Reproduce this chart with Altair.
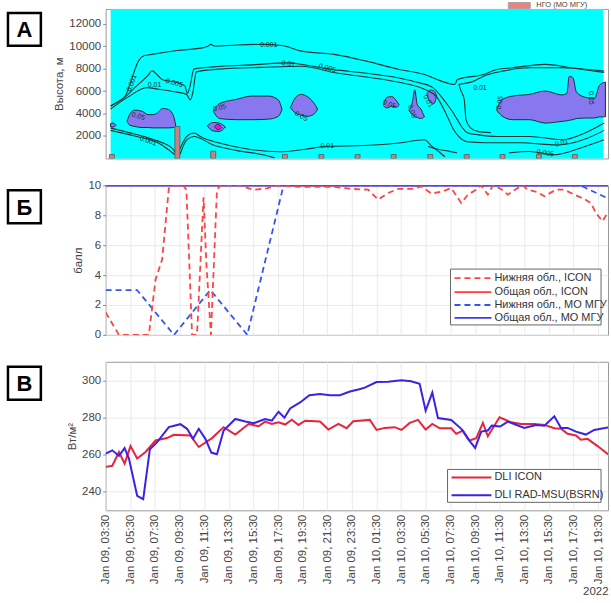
import altair as alt
import pandas as pd

FONT = "Liberation Sans"
BASE = pd.Timestamp("2022-01-09 03:30:00", tz="UTC")


def ms(hours):
    return [int((BASE + pd.Timedelta(hours=float(h))).value // 1_000_000) for h in hours]


# ---------------- time axis ----------------
X_RANGE_H = [0, 40.8]
TICK_H = [0, 2, 4, 6, 8, 10, 12, 14, 16, 18, 20, 22, 24, 26, 28, 30, 32, 34, 36, 38, 40]
XDOM = ms(X_RANGE_H)
TICKS = ms(TICK_H)

# ---------------- panel A: cloud water contours ----------------
BAR_T = [0.1, 5.53, 8.5, 14.44, 17.46, 20.46, 23.45, 26.48, 29.5, 32.47, 35.49, 38.46, 41.45]
BAR_Z = [350, 2850, 650, 350, 350, 350, 350, 350, 350, 350, 350, 350, 350]

BLOB_L_T, BLOB_L_TOP, BLOB_L_BOT = [0, 0.2, 0.45], [3100, 3150, 2950], [2800, 2800, 2950]
BLOB_A_T = [1.35, 1.6, 2.0, 2.6, 3.1, 3.5, 3.8, 4.3, 4.8, 5.2, 5.4]
BLOB_A_TOP = [3300, 3950, 4300, 4200, 3900, 3900, 4000, 4450, 4350, 3800, 2900]
BLOB_A_BOT = [3300, 2950, 2850, 2750, 2750, 2720, 2720, 2720, 2720, 2750, 2900]
BLOB_B_T = [8.5, 9.04, 10.4, 11.7, 13.1, 13.9, 14.2]
BLOB_B_TOP = [4200, 4900, 5250, 5550, 5550, 5200, 4350]
BLOB_B_BOT = [4200, 3550, 3450, 3450, 3500, 3750, 4350]
BLOB_C_T = [14.9, 15.3, 15.8, 16.3, 16.8, 17.15]
BLOB_C_TOP = [4500, 5400, 5700, 5500, 5000, 4400]
BLOB_C_BOT = [4500, 4050, 3850, 3750, 3900, 4400]
BLOB_D_T = [22.6, 22.9, 23.3, 23.7, 23.9]
BLOB_D_TOP = [4700, 5450, 5500, 5100, 4800]
BLOB_D_BOT = [4700, 4500, 4650, 4550, 4800]
BLOB_E_T = [24.7, 25.0, 25.2, 25.4, 25.7, 26.0]
BLOB_E_TOP = [4300, 5000, 6100, 4800, 4400, 3700]
BLOB_E_BOT = [4300, 3900, 3700, 3650, 3550, 3700]
BLOB_F_T = [26.2, 26.5, 26.8, 27.0]
BLOB_F_TOP = [5700, 6100, 6000, 5600]
BLOB_F_BOT = [5700, 5000, 4900, 5600]
BLOB_G_T = [31.98, 32.4, 33.3, 34.7, 36.0, 37.4, 37.8, 38.0, 38.3, 38.6, 39.5, 40.1, 40.5, 41.0]
BLOB_G_TOP = [4300, 5200, 5550, 5700, 6000, 5650, 5800, 7300, 7200, 5900, 5400, 5350, 6500, 6800]
BLOB_G_BOT = [4300, 3800, 3450, 3450, 3150, 3300, 3350, 3400, 3450, 3550, 3600, 3600, 3700, 3700]
BLOB_H_T, BLOB_H_TOP, BLOB_H_BOT = [8.0, 8.5, 9.0, 9.5], [2900, 3200, 3150, 2800], [2900, 2450, 2400, 2800]
MAG_T, MAG_TOP, MAG_BOT = [8.6, 8.9, 9.2], [2850, 3050, 2750], [2850, 2550, 2750]

C1_T = [0, 0.6, 1.2, 1.6, 2.3, 2.8, 3.4, 5.5, 7.7, 8.0, 8.3, 8.6, 10.5, 12.6, 14.2, 15.8, 18.5, 21.2,
        23.9, 26.0, 27.4, 28.5, 28.75, 30.9, 32.0, 33.3, 36.0, 38.2, 40.9]
C1_Z = [4700, 5050, 5540, 6600, 8660, 9150, 9260, 9600, 9860, 9950, 10150, 10000, 10100, 10150, 10050,
        9550, 9260, 8660, 7920, 7470, 6880, 6580, 7030, 7470, 7920, 8070, 8370, 8070, 7770]
C2_T = [0, 1.0, 2.0, 3.1, 3.45, 3.8, 4.3, 5.5, 6.15, 6.35, 6.55, 6.9, 8.5, 12.0, 14.7, 16.5, 18.5, 21.0,
        23.9, 25.5, 26.7, 27.4, 27.9, 28.3, 28.7, 29.1, 29.6, 30.5, 32.0, 34.7, 37.4, 39.3, 40.9]
C2_Z = [4650, 5300, 6300, 7400, 7800, 7500, 7000, 6750, 6450, 5800, 6300, 7950, 8150, 8350, 8500, 8250,
        7900, 7600, 7150, 6750, 6300, 5500, 4800, 4200, 3500, 2800, 2270, 2100, 1960, 1960, 1670, 2270, 3160]
C3_T = [0, 1.5, 3.0, 4.0, 5.5, 6.3, 6.6, 6.8, 7.1, 9.0, 12.5, 15.8, 18.7, 21.5, 24.0, 26.0, 27.0, 27.6,
        28.0, 28.4, 28.8, 29.5, 31.0, 34.0, 37.0, 39.5, 40.9]
C3_Z = [4400, 5500, 6300, 6150, 5900, 5700, 5200, 5800, 7700, 7950, 8100, 8200, 7600, 7200, 6750, 6150,
        5500, 4400, 3500, 2600, 2000, 1500, 1400, 1400, 1200, 1800, 2500]
C4A_T = [28.85, 30.1, 30.9, 32.5, 34.7, 37.4, 40.1, 40.9]
C4A_Z = [6600, 6880, 7320, 7770, 8070, 8070, 7770, 7650]
C4B_T = [28.85, 29.0, 29.3, 29.45, 29.8, 30.4, 31.5]
C4B_Z = [6600, 6100, 5240, 3450, 2740, 2410, 2300]
B1_T, B1_Z = [0, 1.5, 3.6, 4.5, 5.2, 5.45], [2700, 2300, 1670, 1300, 800, 300]
B1B_T = [5.6, 6.3, 6.9, 7.5, 9.0, 11.7, 14.0, 16.0, 18.0, 21.0, 23.9, 26.0, 26.6, 27.2, 27.7]
B1B_Z = [500, 1950, 2270, 1900, 1370, 780, 600, 800, 1080, 1150, 1370, 1670, 1100, 600, 150]
B2_T, B2_Z = [0, 2, 4, 5.3], [2500, 2000, 1350, 350]
B2B_T, B2B_Z = [5.75, 6.3, 6.9, 8.5, 10.5, 12.5, 13.6], [350, 1650, 1950, 1200, 700, 350, 50]
B3_T, B3_Z = [26.3, 27.2, 28.0, 28.7], [1070, 800, 650, 500]
B4_T, B4_Z = [33.0, 34.7, 36.8, 39.3, 40.9], [500, 625, 330, 1070, 1670]

LBL_TEXT = ["0.001", "0.01", "0.005", "0.01", "0.005", "0.001", "0.05", "0.05", "0.05", "0.05",
            "0.05", "0.05", "0.05", "0.01", "0.01", "0.001", "0.005", "0.01", "0.01"]
LBL_T = [13.09, 14.71, 17.95, 3.64, 5.26, 1.75, 2.29, 9.04, 15.79, 23.1, 24.97, 32.25, 39.8, 17.95,
         37.38, 3.1, 36.0, 30.6, 26.3]
LBL_Z = [10050, 8400, 8050, 6550, 6700, 6700, 3750, 4500, 3750, 4800, 4200, 4950, 5400, 1075, 1373,
         1550, 480, 6300, 5100]
LBL_ANGLE = [0, 8, 15, 0, 15, 290, 15, 345, 30, 20, 70, 280, 90, 0, 345, 20, 10, 0, 60]

# ---------------- panel B: cloudiness ----------------
LOW_ICON_T = [0, 1.08, 3.51, 4.05, 4.59, 5.13, 5.4, 6.3, 6.56, 7.02, 7.42, 7.95, 8.2, 8.55, 9.04, 9.31,
              10.9, 12.01, 13.1, 13.9, 15.8, 17.14, 18.5, 20.1, 21.32, 22.13, 22.94, 23.75, 24.83, 25.64,
              26.45, 27.39, 28.07, 28.88, 29.42, 30.1, 30.5, 31.04, 31.45, 32.12, 32.66, 33.47, 33.87,
              34.28, 35.09, 35.63, 36.57, 37.25, 38.06, 38.87, 39.41, 39.81, 40.35, 40.76]
LOW_ICON_V = [1.5, 0, 0, 3.7, 5.05, 9.8, 10, 10, 9.7, 0, 0, 9.2, 4.5, 0, 9.7, 10,
              10, 9.7, 9.8, 10, 9.9, 9.9, 9.9, 9.76, 9.71, 9.05, 9.49, 9.76, 9.76, 9.93,
              9.45, 9.6, 9.82, 8.82, 9.38, 9.71, 10, 9.38, 10, 9.76, 9.38, 9.82, 10,
              9.71, 9.54, 9.27, 9.71, 9.71, 9.38, 9.09, 8.82, 8.16, 7.6, 8.16]
TOT_ICON_T, TOT_ICON_V = [0, 41], [10, 10]
LOW_MSU_T = [0, 2.55, 5.55, 8.5, 11.5, 14.45, 17.5, 20.5, 23.5, 26.5, 29.5, 32.5, 35.5, 38.55, 41.5]
LOW_MSU_V = [3, 3, 0, 3, 0, 10, 10, 10, 10, 10, 10, 10, 10, 10, 8.85]
TOT_MSU_T = [0, 2.55, 5.55, 8.5, 11.5, 14.45, 17.5, 20.5, 23.5, 26.5, 29.5, 32.5, 35.5, 38.55, 41.5]
TOT_MSU_V = [10, 10, 10, 10, 10, 10, 10, 10, 10, 10, 10, 10, 10, 10, 10]

# ---------------- panel C: downward longwave ----------------
DLI_ICON_T = [0, 0.54, 1.08, 1.54, 2.02, 2.56, 3.24, 4.05, 4.99, 5.53, 6.88, 7.56, 8.64, 9.58, 10.53,
              11.61, 12.42, 12.95, 13.5, 14.04, 14.58, 15.12, 15.66, 16.2, 17.41, 18.09, 18.9, 19.57,
              20.11, 21.46, 22.0, 22.67, 23.48, 24.02, 24.7, 25.37, 25.99, 26.53, 27.13, 28.07, 28.47,
              29.02, 29.56, 30.1, 30.64, 31.04, 31.99, 32.93, 33.74, 34.82, 35.63, 36.44, 36.98, 37.52,
              38.2, 38.6, 39.14, 39.95, 40.97]
DLI_ICON_V = [253.4, 254, 261.4, 255.2, 264.6, 257.9, 261.4, 267.6, 268.9, 270.7, 270.3, 264.1, 268.9,
              274.8, 270.8, 276.5, 275.3, 277.8, 276.5, 277.4, 276.2, 278.8, 276, 278.3, 277.8, 273.5,
              276.5, 274.2, 278, 278.7, 273.3, 274.4, 274.8, 273.3, 277.1, 278.7, 273.5, 276.5, 274.2,
              274.2, 271.2, 273, 267.6, 268.9, 277.1, 269.9, 280.1, 277.4, 276.5, 276.5, 276, 274.2,
              273.9, 271.2, 270.3, 268, 268.5, 264.6, 259.3]
DLI_BSRN_T = [0, 0.54, 1.08, 1.54, 1.89, 2.56, 3.05, 3.59, 4.18, 5.13, 6.07, 6.61, 7.1, 7.56, 8.1, 8.58,
              9.04, 9.58, 10.53, 11.34, 12.01, 12.95, 13.5, 14.04, 14.52, 14.98, 15.79, 16.55, 17.41,
              18.22, 19.03, 19.84, 20.6, 21.05, 22.0, 22.94, 24.02, 24.8, 25.5, 25.99, 26.53, 26.99,
              28.07, 28.88, 29.42, 30.01, 30.5, 31.04, 31.36, 32.04, 32.66, 34.0, 34.95, 35.63, 36.44,
              36.98, 37.52, 38.2, 39.0, 39.68, 40.97]
DLI_BSRN_V = [260.5, 262.3, 259.3, 263.5, 257.9, 237.8, 236, 262.8, 266.8, 274.8, 276.4, 273.9, 268.5,
              273.9, 268.5, 261.1, 260.2, 273, 279.2, 277.8, 276.9, 279.2, 278.3, 283.1, 279.9, 284.9,
              288.1, 292, 292.7, 292, 292, 294, 295.2, 296.1, 299.1, 299.3, 300, 299.5, 298.2, 283.6,
              293.4, 279.7, 278.7, 273.9, 268.5, 263.6, 272.4, 273, 275.6, 275.1, 277.8, 274.4, 276,
              275.6, 280.6, 274.4, 274.4, 272.4, 270.8, 273.3, 274.8]

# ---------------- helpers ----------------
one = pd.DataFrame({"k": [0]})
XSCALE = alt.Scale(type="utc", domain=XDOM)


def series(T, V):
    return pd.DataFrame({"ms": ms(T), "v": V})


def letter(ch, y0):
    box = alt.Chart(one).mark_rect(fill="white", stroke="black", strokeWidth=2.5).encode(
        x=alt.value(-98), x2=alt.value(-65), y=alt.value(y0), y2=alt.value(y0 + 33))
    txt = alt.Chart(one).mark_text(text=ch, font=FONT, fontSize=22, fontWeight="bold", color="black",
                                   align="center", baseline="middle").encode(
        x=alt.value(-81.5), y=alt.value(y0 + 17.5))
    return [box, txt]


def legend_entry(x0, x1, y, color, dash, label, xt, width=1.8):
    kw = dict(color=color, strokeWidth=width)
    if dash:
        kw["strokeDash"] = dash
    r = alt.Chart(one).mark_rule(**kw).encode(x=alt.value(x0), x2=alt.value(x1), y=alt.value(y))
    t = alt.Chart(one).mark_text(text=label, align="left", baseline="middle", font=FONT, fontSize=11,
                                 color="#333").encode(x=alt.value(xt), y=alt.value(y))
    return [r, t]


def legend_box(x0, x1, y0, y1):
    return alt.Chart(one).mark_rect(fill="white", stroke="#666", strokeWidth=1).encode(
        x=alt.value(x0), x2=alt.value(x1), y=alt.value(y0), y2=alt.value(y1))


YAX = dict(ticks=True, tickSize=3, labelPadding=2, titlePadding=4, format="d",
           labelFontSize=11.5, titleFontSize=11.5)

# ---------------- panel A ----------------
ZDOM = [0, 13300]
ZSCALE = alt.Scale(domain=ZDOM, nice=False)
A_YAXIS = alt.Axis(values=[2000, 4000, 6000, 8000, 10000, 12000], title="Высота, м", grid=False, **YAX)
bg = pd.DataFrame({"t0": [XDOM[0]], "t1": [XDOM[1]], "z0": [ZDOM[0]], "z1": [ZDOM[1]]})
bg_layer = alt.Chart(bg).mark_rect(color="#00FFFF").encode(
    x=alt.X("t0:T", scale=XSCALE, axis=None), x2="t1:T",
    y=alt.Y("z0:Q", scale=ZSCALE, axis=A_YAXIS), y2="z1:Q")

blobs = {
    "l": (BLOB_L_T, BLOB_L_TOP, BLOB_L_BOT), "a": (BLOB_A_T, BLOB_A_TOP, BLOB_A_BOT),
    "b": (BLOB_B_T, BLOB_B_TOP, BLOB_B_BOT), "c": (BLOB_C_T, BLOB_C_TOP, BLOB_C_BOT),
    "d": (BLOB_D_T, BLOB_D_TOP, BLOB_D_BOT), "e": (BLOB_E_T, BLOB_E_TOP, BLOB_E_BOT),
    "f": (BLOB_F_T, BLOB_F_TOP, BLOB_F_BOT), "g": (BLOB_G_T, BLOB_G_TOP, BLOB_G_BOT),
    "h": (BLOB_H_T, BLOB_H_TOP, BLOB_H_BOT),
}
rows = []
for name, (T, TOP, BOT) in blobs.items():
    for m, a, b in zip(ms(T), TOP, BOT):
        rows.append({"blob": name, "ms": m, "top": a, "bot": b})
blob_df = pd.DataFrame(rows)
mag_df = pd.DataFrame({"blob": "m", "ms": ms(MAG_T), "top": MAG_TOP, "bot": MAG_BOT})


def blob_layer(df, fill):
    return alt.Chart(df).mark_area(interpolate="monotone", fill=fill, stroke="#1c2e36", strokeWidth=1,
                                   clip=True).encode(
        x=alt.X("ms:T", scale=XSCALE, axis=None),
        y=alt.Y("top:Q", scale=ZSCALE, stack=None, axis=A_YAXIS), y2="bot:Q", detail="blob:N")


lines = {"c1": (C1_T, C1_Z), "c2": (C2_T, C2_Z), "c3": (C3_T, C3_Z), "c4a": (C4A_T, C4A_Z),
         "c4b": (C4B_T, C4B_Z), "b1": (B1_T, B1_Z), "b1b": (B1B_T, B1B_Z), "b2": (B2_T, B2_Z),
         "b2b": (B2B_T, B2B_Z), "b3": (B3_T, B3_Z), "b4": (B4_T, B4_Z)}
rows = []
for name, (T, Z) in lines.items():
    for i, (m, z) in enumerate(zip(ms(T), Z)):
        rows.append({"line": name, "seq": i, "ms": m, "z": z})
line_df = pd.DataFrame(rows)
contour_layer = alt.Chart(line_df).mark_line(interpolate="monotone", color="#1c3434", strokeWidth=1.1,
                                             clip=True).encode(
    x=alt.X("ms:T", scale=XSCALE, axis=None), y=alt.Y("z:Q", scale=ZSCALE, axis=A_YAXIS),
    detail="line:N", order="seq:Q")

bar_df = pd.DataFrame({"ms": ms(BAR_T), "z": BAR_Z})
bar_layer = alt.Chart(bar_df).mark_bar(size=5, color="#C98080", stroke="#5a4a4a", strokeWidth=0.7,
                                       clip=True).encode(
    x=alt.X("ms:T", scale=XSCALE, axis=None), y=alt.Y("z:Q", scale=ZSCALE, axis=A_YAXIS),
    y2=alt.datum(0))

lbl_df = pd.DataFrame({"ms": ms(LBL_T), "z": LBL_Z, "txt": LBL_TEXT, "ang": LBL_ANGLE})
lbl_layer = alt.Chart(lbl_df).mark_text(font=FONT, fontSize=7, color="#1c2e2e").encode(
    x=alt.X("ms:T", scale=XSCALE, axis=None), y=alt.Y("z:Q", scale=ZSCALE, axis=A_YAXIS),
    text="txt:N", angle=alt.Angle("ang:Q", scale=None))

ngo_box = alt.Chart(one).mark_rect(fill="#F08080", stroke="#999", strokeWidth=0.8).encode(
    x=alt.value(404), x2=alt.value(426), y=alt.value(-6.5), y2=alt.value(-0.5))
ngo_txt = alt.Chart(one).mark_text(text="НГО (МО МГУ)", font=FONT, fontSize=7.5, color="#444",
                                   align="left", baseline="middle").encode(
    x=alt.value(432), y=alt.value(-3.5))

panel_a = alt.layer(bg_layer, blob_layer(blob_df, "#8878F0"), blob_layer(mag_df, "#FF00FF"),
                    contour_layer, bar_layer, lbl_layer, ngo_box, ngo_txt,
                    *letter("А", 4)).properties(width=504, height=150)

# ---------------- panel B ----------------
BSCALE = alt.Scale(domain=[0, 10], nice=False)
xgrid = alt.Axis(values=TICKS, labels=False, ticks=False, domain=False, grid=True, title=None)


def b_line(T, V, color, dash, width, axis_y):
    kw = dict(color=color, strokeWidth=width, clip=True)
    if dash:
        kw["strokeDash"] = dash
    return alt.Chart(series(T, V)).mark_line(**kw).encode(
        x=alt.X("ms:T", scale=XSCALE, axis=xgrid),
        y=alt.Y("v:Q", scale=BSCALE, axis=axis_y))


b_yaxis = alt.Axis(values=[0, 2, 4, 6, 8, 10], title="балл", grid=True, **YAX)
panel_b = alt.layer(
    b_line(TOT_ICON_T, TOT_ICON_V, "#FF3B3B", None, 1.6, b_yaxis),
    b_line(TOT_MSU_T, TOT_MSU_V, "#3B3BFF", None, 2.2, b_yaxis),
    b_line(LOW_MSU_T, LOW_MSU_V, "#3355EE", [6, 4], 1.8, b_yaxis),
    b_line(LOW_ICON_T, LOW_ICON_V, "#FF4444", [6, 4], 1.8, b_yaxis),
    legend_box(346, 497, 84, 140),
    *legend_entry(350, 387, 93, "#FF4444", [6, 4], "Нижняя обл., ICON", 390),
    *legend_entry(350, 387, 107, "#FF3B3B", None, "Общая обл., ICON", 390),
    *legend_entry(350, 387, 120, "#3355EE", [6, 4], "Нижняя обл., МО МГУ", 390),
    *legend_entry(350, 387, 133, "#3B3BFF", None, "Общая обл., МО МГУ", 390),
    *letter("Б", 5),
).properties(width=504, height=150)

# ---------------- panel C ----------------
CSCALE = alt.Scale(domain=[230, 310], nice=False)
c_xaxis = alt.Axis(values=TICKS, format="%b %d, %H:%M", labelAngle=270, labelOverlap=False,
                   labelFlush=False, ticks=False, domain=False, grid=True, labelPadding=4,
                   labelFontSize=11.5, title="2022", titleAnchor="end", titlePadding=2,
                   titleFontSize=11.5)
c_yaxis = alt.Axis(values=[240, 260, 280, 300], title="Вт/м²", grid=True, **YAX)

c_red = alt.Chart(series(DLI_ICON_T, DLI_ICON_V)).mark_line(color="#E8243C", strokeWidth=2,
                                                           clip=True).encode(
    x=alt.X("ms:T", scale=XSCALE, axis=c_xaxis), y=alt.Y("v:Q", scale=CSCALE, axis=c_yaxis))
c_blue = alt.Chart(series(DLI_BSRN_T, DLI_BSRN_V)).mark_line(color="#3A22E6", strokeWidth=2,
                                                             clip=True).encode(
    x=alt.X("ms:T", scale=XSCALE, axis=c_xaxis), y=alt.Y("v:Q", scale=CSCALE, axis=c_yaxis))

panel_c = alt.layer(
    c_red, c_blue,
    legend_box(343, 497, 108, 141),
    *legend_entry(347, 387, 116, "#E8243C", None, "DLI ICON", 390, 2),
    *legend_entry(347, 387, 134, "#3A22E6", None, "DLI RAD-MSU(BSRN)", 390, 2),
    *letter("В", 5),
).properties(width=504, height=149)

chart = alt.vconcat(panel_a, panel_b, panel_c, spacing=27, bounds="flush").properties(
    padding={"left": 6, "right": 2, "top": 0, "bottom": 0}, background="white"
).configure_view(stroke="#9a9a9a", strokeWidth=1).configure_axis(
    labelFont=FONT, titleFont=FONT, labelColor="#444", titleColor="#444", titleFontWeight="normal",
    gridColor="#e4e4e4", gridWidth=0.8, tickColor="#888", domain=False
)

chart.save("out.html", embed_options={"renderer": "svg", "actions": False})
